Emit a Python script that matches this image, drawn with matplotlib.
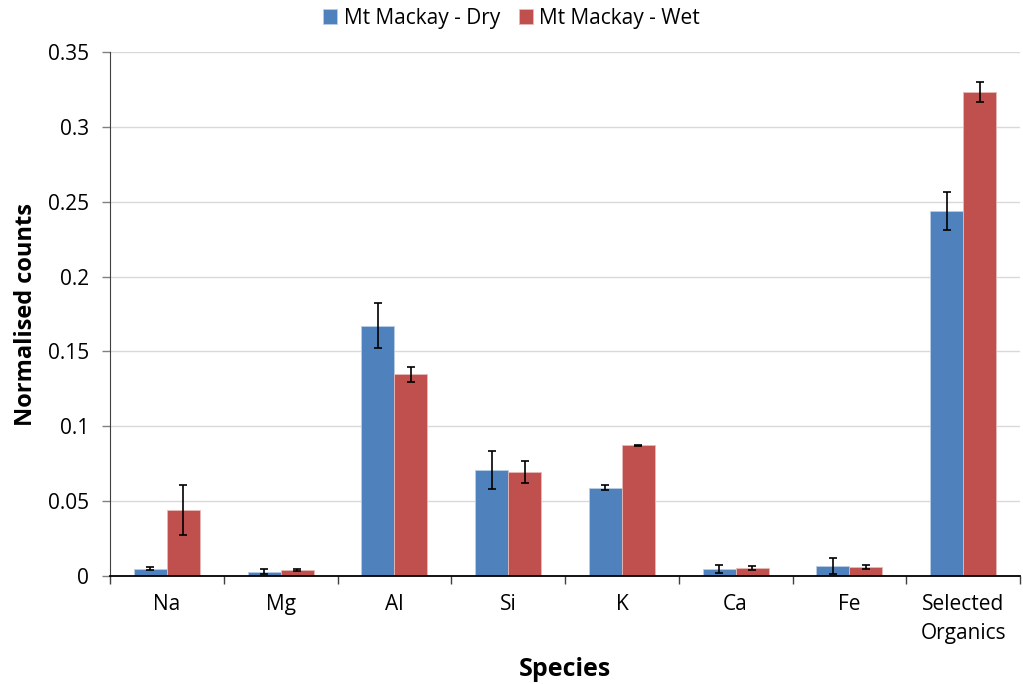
import numpy as np
import matplotlib.pyplot as plt
from matplotlib.ticker import FuncFormatter

species = ["Na", "Mg", "Al", "Si", "K", "Ca", "Fe", "Selected\nOrganics"]
dry = [0.0050, 0.0030, 0.1672, 0.0708, 0.0590, 0.0045, 0.0067, 0.2438]
dry_err = [0.0013, 0.0015, 0.0152, 0.0128, 0.0015, 0.0028, 0.0053, 0.0125]
wet = [0.0440, 0.0038, 0.1347, 0.0693, 0.0873, 0.0053, 0.0062, 0.3235]
wet_err = [0.0167, 0.0007, 0.0048, 0.0075, 0.0005, 0.0013, 0.0013, 0.0067]

plt.rcParams['font.family'] = ['Open Sans', 'DejaVu Sans']

fig = plt.figure(figsize=(10.23, 6.84), dpi=100)
ax = fig.add_axes([110/1023, 1-576/684, 910/1023, 524/684])

x = np.arange(len(species))
w = 0.29
ekw = dict(elinewidth=1.2, capthick=1.2, ecolor="black")
ax.bar(x - w/2, dry, w, yerr=dry_err, capsize=3, color="#4F81BD",
       edgecolor="#B9CDE5", linewidth=0.6, error_kw=ekw, label="Mt Mackay - Dry", zorder=2)
ax.bar(x + w/2, wet, w, yerr=wet_err, capsize=3, color="#C0504D",
       edgecolor="#E6B9B8", linewidth=0.6, error_kw=ekw, label="Mt Mackay - Wet", zorder=2)

ax.set_xlim(-0.5, len(species) - 0.5)
ax.set_ylim(0, 0.35)
ax.set_yticks(np.arange(0, 0.351, 0.05))
ax.yaxis.set_major_formatter(FuncFormatter(lambda v, p: "0" if v == 0 else f"{v:g}"))
ax.yaxis.grid(True, color="#D9D9D9", linewidth=1, zorder=0)
ax.set_axisbelow(True)

ax.set_xticks(x)
ax.set_xticklabels(species, fontsize=15, linespacing=1.5)
ax.tick_params(axis="x", length=0, pad=13)
ax.set_xticks(np.arange(-0.5, len(species)), minor=True)
ax.tick_params(axis="x", which="minor", length=6, width=1, color="#404040", direction="out")
ax.tick_params(axis="y", labelsize=15, length=6, width=1, color="#808080", direction="out", pad=9)

for s in ["top", "right"]:
    ax.spines[s].set_visible(False)
ax.spines["left"].set_color("#404040")
ax.spines["bottom"].set_color("black")
ax.spines["bottom"].set_linewidth(1.3)

ax.set_ylabel("Normalised counts", fontsize=17, fontweight="bold", labelpad=7)
ax.set_xlabel("Species", fontsize=18, fontweight="bold", labelpad=9)

fig.legend(loc="upper center", bbox_to_anchor=(0.5, 1.016), ncol=2, frameon=False,
           fontsize=15, handlelength=0.7, handleheight=0.7, handletextpad=0.3, columnspacing=0.9)

fig.savefig("out.png", dpi=100)
